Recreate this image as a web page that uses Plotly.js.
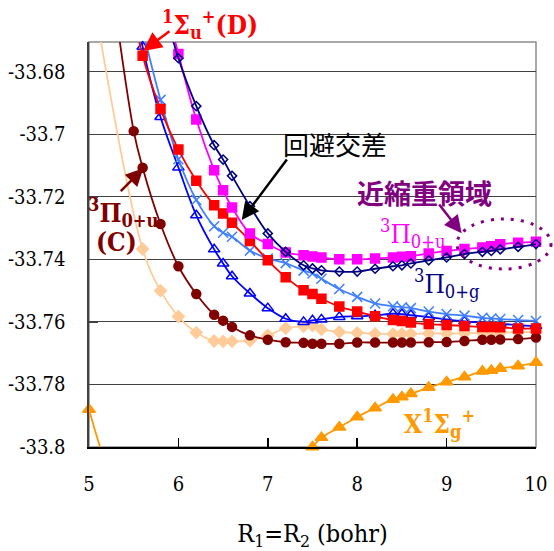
<!DOCTYPE html>
<html>
<head>
<meta charset="utf-8">
<script src="https://cdn.plot.ly/plotly-3.0.1.min.js"></script>
<style>html,body{margin:0;padding:0;background:#fff;}#chart{width:554px;height:551px;}</style>
</head>
<body>
<div id="chart"></div>
<script>
// ---------------- data ----------------
const R = [5.6,5.8,6.0,6.2,6.4,6.5,6.6,6.8,7.0,7.2,7.4,7.5,7.6,7.8,8.0,8.2,8.4,8.5,8.6,8.8,9.0,9.2,9.4,9.5,9.6,9.8,10.0];

// X 1Σg+ (orange triangles)
const xX = [5.0,5.5,6.0,6.5,7.0,7.5,7.6,7.8,8.0,8.2,8.4,8.5,8.6,8.8,9.0,9.2,9.4,9.5,9.6,9.8,10.0];
const yX = [-33.788,-33.826,-33.838,-33.833,-33.818,-33.8,-33.797,-33.7937,-33.7904,-33.7875,-33.7848,-33.784,-33.783,-33.781,-33.7792,-33.7776,-33.7758,-33.7755,-33.7749,-33.7741,-33.773];

// peach diamonds
const xPeach = [5.0].concat(R);
const yPeach = [-33.648,-33.7367,-33.7500,-33.7583,-33.7634,-33.7661,-33.7662,-33.7662,-33.7660,-33.7643,-33.7620,-33.7614,-33.7612,-33.7624,-33.7632,-33.7635,-33.7638,-33.7639,-33.7638,-33.7638,-33.7637,-33.7637,-33.7636,-33.7635,-33.7635,-33.7634,-33.7633,-33.7632];

// 3Π0+u (C) dark red circles
const xC = [5.2,5.5].concat(R);
const yC = [-33.640,-33.699,-33.7107,-33.7287,-33.7422,-33.7511,-33.7577,-33.7596,-33.7616,-33.7643,-33.7657,-33.7665,-33.7667,-33.7670,-33.7670,-33.7670,-33.7666,-33.7666,-33.7666,-33.7666,-33.7666,-33.7665,-33.7664,-33.7661,-33.7657,-33.7657,-33.7656,-33.7655,-33.7650];

// blue open triangles
const xTri = [5.4].concat(R);
const yTri = [-33.640,-33.6720,-33.6945,-33.7106,-33.7259,-33.7368,-33.7413,-33.7454,-33.7509,-33.7556,-33.7590,-33.7600,-33.7595,-33.7592,-33.7584,-33.7582,-33.7579,-33.7574,-33.7575,-33.7578,-33.7585,-33.7592,-33.7598,-33.7602,-33.7604,-33.7606,-33.7610,-33.7613];

// light blue crosses
const xCross = R.slice();
const yCross = [-33.6665,-33.6890,-33.7080,-33.7210,-33.7294,-33.7315,-33.7328,-33.7372,-33.7397,-33.7412,-33.7436,-33.7445,-33.7462,-33.7495,-33.7520,-33.7541,-33.7550,-33.7553,-33.7556,-33.7567,-33.7575,-33.7580,-33.7587,-33.7589,-33.7591,-33.7594,-33.7597];

// 1Σu+ (D) red squares
const xD = [5.4].concat(R);
const yD = [-33.645,-33.6749,-33.6919,-33.7049,-33.7149,-33.7227,-33.7253,-33.7283,-33.7341,-33.7403,-33.7457,-33.7499,-33.7511,-33.7526,-33.7551,-33.7567,-33.7582,-33.7594,-33.7597,-33.7602,-33.7607,-33.7610,-33.7613,-33.7616,-33.7616,-33.7617,-33.7621,-33.7621];

// 3Π0+u magenta squares
const xU = [5.8,6.0,6.2,6.4,6.5,6.6,6.8,7.0,7.2,7.4,7.5,7.6,7.8,8.0,8.2,8.4,8.5,8.6,8.8,9.0,9.2,9.4,9.5,9.6,9.8,10.0];
const yU = [-33.652,-33.6743,-33.6953,-33.7115,-33.7179,-33.7234,-33.7317,-33.7351,-33.7378,-33.7387,-33.7391,-33.7394,-33.7400,-33.7400,-33.7397,-33.7394,-33.7392,-33.7390,-33.7381,-33.7373,-33.7367,-33.7362,-33.7358,-33.7352,-33.7347,-33.7344];

// 3Π0+g navy open diamonds
const xG = xU.slice();
const yG = [-33.655,-33.6757,-33.6910,-33.7035,-33.7081,-33.7133,-33.7230,-33.7317,-33.7376,-33.7419,-33.7429,-33.7435,-33.7439,-33.7439,-33.7430,-33.7422,-33.7419,-33.7413,-33.7403,-33.7394,-33.7383,-33.7376,-33.7373,-33.7368,-33.7360,-33.7351];

const yTickVals = [-33.8,-33.78,-33.76,-33.74,-33.72,-33.7,-33.68];
const yTickText = ["-33.8","-33.78","-33.76","-33.74","-33.72","-33.7","-33.68"];
const xTickVals = [5,6,7,8,9,10];

// ---------------- layout helpers ----------------
const YMIN = -33.8, YMAX = -33.6705, XMIN = 5, XMAX = 10;
const PL = 89, PR = 536, PT = 42, PB = 447;
const xp = px => (px - PL) / (PR - PL);
const yp = py => (PB - py) / (PB - PT);
function sizes(xs, ys, s) {
  return ys.map((y, i) => (y >= YMIN - 1e-9 && y <= YMAX && xs[i] >= XMIN && xs[i] <= XMAX) ? s : 0);
}
function series(xs, ys, color, symbol, size, lw) {
  return {
    x: xs, y: ys, type: 'scatter', mode: 'lines+markers', cliponaxis: false,
    line: {color: color, width: lw || 1.8, shape: 'spline', smoothing: 1},
    marker: {color: color, opacity: 1, symbol: symbol, size: sizes(xs, ys, size), line: {color: color, width: 1.5}},
    hoverinfo: 'skip', showlegend: false
  };
}

const traces = [
  series(xX, yX, '#FF9900', 'triangle-up', 11),
  series(xPeach, yPeach, '#FFCC99', 'diamond', 9),
  series(xC, yC, '#800000', 'circle', 9),
  series(xTri, yTri, '#0000FF', 'triangle-up-open', 10),
  series(xCross, yCross, '#3F7FFF', 'x-thin-open', 10),
  series(xD, yD, '#FF0000', 'square', 9),
  series(xU, yU, '#FF00FF', 'square', 9),
  series(xG, yG, '#000080', 'diamond-open', 7)
];

const serif = 'DejaVu Serif Condensed, DejaVu Serif';
const cjk = 'Noto Sans CJK JP';

function label(text, cx, cy, color, size, family) {
  return {xref: 'paper', yref: 'paper', x: xp(cx), y: yp(cy), xanchor: 'center', yanchor: 'middle',
    text: text, showarrow: false, font: {family: family || serif, size: size || 26, color: color}};
}
function arrow(tipX, tipY, tailX, tailY, color, w, s) {
  return {xref: 'paper', yref: 'paper', x: xp(tipX), y: yp(tipY), ax: tailX - tipX, ay: tailY - tipY,
    text: '', showarrow: true, arrowhead: 2, arrowsize: s, arrowwidth: w, arrowcolor: color, standoff: 0, startstandoff: 0};
}

const layout = {
  width: 554, height: 551,
  margin: {l: PL, r: 554 - PR, t: PT, b: 551 - PB, pad: 0},
  paper_bgcolor: '#fff', plot_bgcolor: '#fff',
  font: {family: serif},
  showlegend: false,
  xaxis: {
    range: [XMIN, XMAX], tickvals: xTickVals, ticktext: xTickVals.map(String),
    ticks: 'inside', ticklen: 9, tickwidth: 1.5, tickcolor: '#000',
    showline: true, linecolor: '#000', linewidth: 2, showgrid: false, zeroline: false,
    tickfont: {family: serif, size: 20, color: '#000'}, ticklabelstandoff: 18,
    title: {text: 'R<sub>1</sub>=R<sub>2</sub> (bohr)', font: {family: serif, size: 25, color: '#000'}, standoff: 34},
    fixedrange: true
  },
  yaxis: {
    range: [YMIN, YMAX], tickvals: yTickVals, ticktext: yTickText,
    ticks: 'inside', ticklen: 9, tickwidth: 1.5, tickcolor: '#404040',
    showline: true, linecolor: '#404040', linewidth: 2.5,
    showgrid: true, gridcolor: '#404040', gridwidth: 1.2, zeroline: false,
    tickfont: {family: serif, size: 20, color: '#000'}, ticklabelstandoff: 17,
    fixedrange: true
  },
  shapes: [
    {type: 'rect', xref: 'paper', yref: 'paper', x0: 0, x1: 1, y0: 0, y1: 1, line: {color: '#8c8c8c', width: 1.5}, layer: 'below'},
    {type: 'rect', xref: 'paper', yref: 'paper', x0: xp(263), x1: xp(413), y0: yp(139), y1: yp(129), fillcolor: '#fff', line: {width: 0}, layer: 'between'},
    {type: 'rect', xref: 'paper', yref: 'paper', x0: xp(338), x1: xp(531), y0: yp(202), y1: yp(192), fillcolor: '#fff', line: {width: 0}, layer: 'between'},
    {type: 'circle', xref: 'paper', yref: 'paper', x0: xp(457), x1: xp(551), y0: yp(269), y1: yp(219), line: {color: '#800080', width: 3, dash: '3px,7px'}}
  ],
  annotations: [
    label('<b><sup>1</sup>Σ<sub>u</sub><sup>+</sup>(D)</b>', 210, 25, '#FF0000', 26),
    label('回避交差', 335, 143, '#000', 26, cjk),
    label('<b>近縮重領域</b>', 424, 192, '#800080', 27, cjk),
    label('<sup>3</sup>Π<sub>0+u</sub>', 413, 233, '#FF00FF', 26),
    label('<sup>3</sup>Π<sub>0+g</sub>', 446, 283, '#000080', 26),
    label('<b><sup>3</sup>Π<sub>0+u</sub></b>', 123.5, 212, '#800000', 26),
    label('<b>(C)</b>', 116, 242, '#800000', 26),
    label('<b>X<sup>1</sup>Σ<sub>g</sub><sup>+</sup></b>', 439.5, 423, '#FF9900', 26),
    arrow(143, 51, 171, 30, '#FF0000', 2.5, 1.5),
    arrow(241.7, 220, 288, 158, '#000', 2.5, 1.4),
    arrow(143.3, 168.3, 119.3, 192.7, '#800000', 2.5, 1.4),
    arrow(461.7, 233.3, 438, 203, '#800080', 2.5, 1.4)
  ]
};

Plotly.newPlot('chart', traces, layout, {staticPlot: true, displayModeBar: false});
</script>
</body>
</html>
